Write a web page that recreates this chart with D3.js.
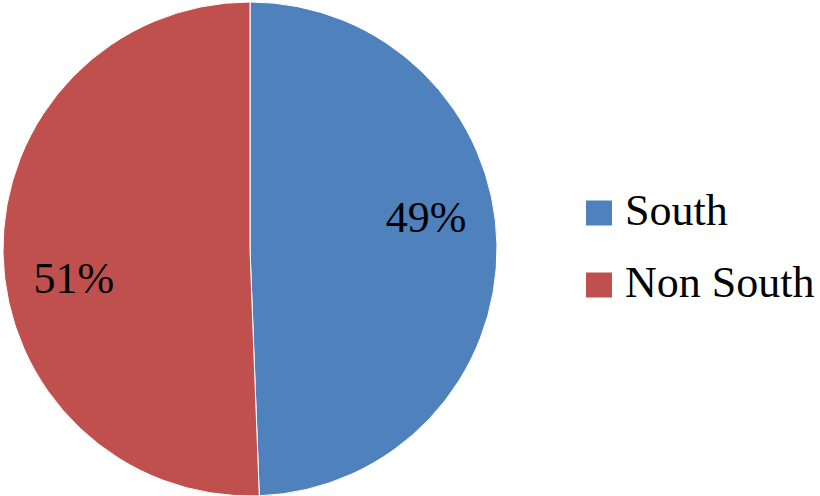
<!DOCTYPE html>
<html><head><meta charset="utf-8">
<script src="https://cdn.jsdelivr.net/npm/d3@7"></script>
<style>html,body{margin:0;padding:0;background:#fff;}svg{display:block;}</style>
</head><body>
<script>
const categories = ["South", "Non South"];
const shares = [0.494, 0.506];
const colors = ["#4F81BD", "#C0504D"];

const W = 820, H = 496;
const cx = 250, cy = 249, R = 247;
const font = "'Liberation Serif', 'Times New Roman', serif";

const svg = d3.select("body").append("svg").attr("width", W).attr("height", H);
const g = svg.append("g").attr("transform", `translate(${cx},${cy})`);

const data = categories.map((c, i) => ({ name: c, value: shares[i], color: colors[i] }));
const pie = d3.pie().value(d => d.value).sort(null);
const arc = d3.arc().innerRadius(0).outerRadius(R);
const labelArc = d3.arc().innerRadius(R * 0.713).outerRadius(R * 0.713);
const fmt = d3.format(".0%");

const arcs = pie(data);
g.selectAll("path").data(arcs).join("path")
  .attr("d", arc).attr("fill", d => d.data.color)
  .attr("stroke", "#fff").attr("stroke-width", 1);

g.selectAll("text.lbl").data(arcs).join("text").attr("class", "lbl")
  .attr("x", d => labelArc.centroid(d)[0])
  .attr("y", d => labelArc.centroid(d)[1] + (labelArc.centroid(d)[0] > 0 ? -29 : 25))
  .attr("text-anchor", "middle").attr("dy", "0.35em")
  .attr("font-family", font).attr("font-size", 44).attr("fill", "#000")
  .text(d => fmt(d.data.value));

const legY = d3.scalePoint().domain(categories).range([213, 285]);
const leg = svg.append("g");
const items = leg.selectAll("g").data(data).join("g")
  .attr("transform", d => `translate(586,${legY(d.name)})`);
items.append("rect").attr("x", 0).attr("y", -12.5).attr("width", 26).attr("height", 25)
  .attr("fill", d => d.color);
items.append("text").attr("x", 39).attr("y", 12)
  .attr("font-family", font).attr("font-size", 44).attr("fill", "#000")
  .text(d => d.name);
</script>
</body></html>
